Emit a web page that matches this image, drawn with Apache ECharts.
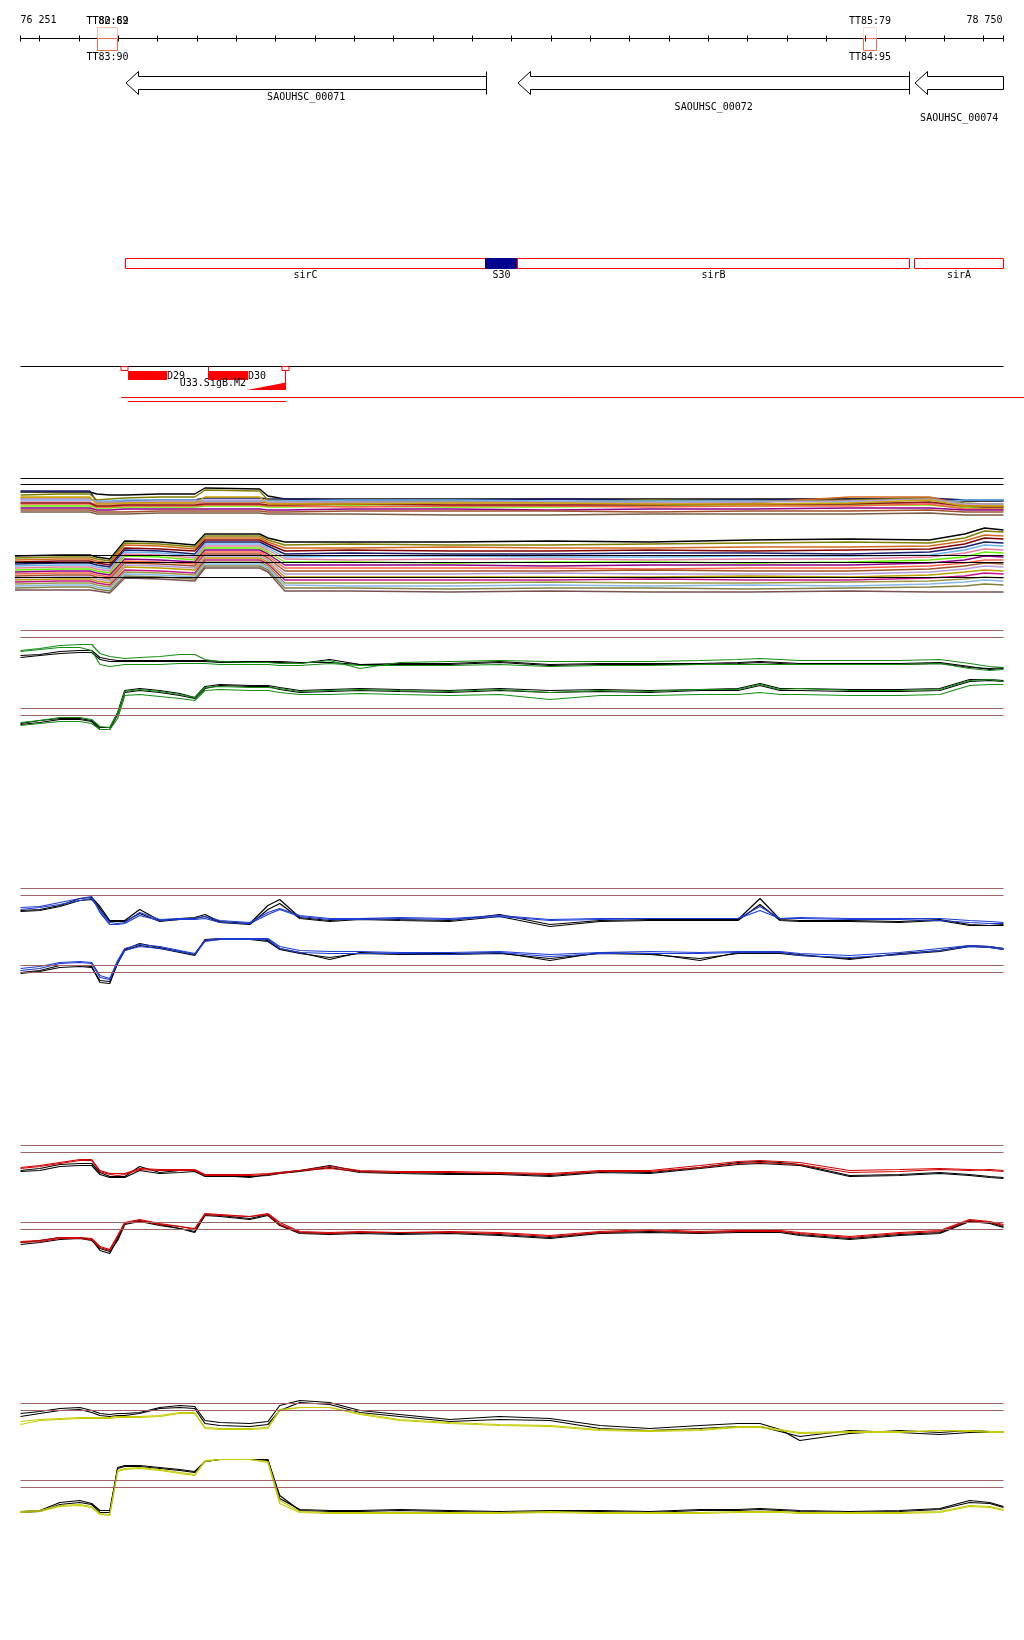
<!DOCTYPE html>
<html><head><meta charset="utf-8">
<script src="https://cdn.jsdelivr.net/npm/echarts@6/dist/echarts.min.js"></script>
<style>html,body{margin:0;padding:0;background:#fff}#c{width:1024px;height:1640px}</style>
</head><body><div id="c"></div><script>
// ---------- genome window ----------
const X_MIN = 76251, X_MAX = 78750;
const rulerTicks = [76251,76300,76400,76500,76600,76700,76800,76900,77000,77100,77200,77300,77400,77500,77600,77700,77800,77900,78000,78100,78200,78300,78400,78500,78600,78700,78750];
const rulerLabels = ['76 251', '78 750'];

// terminators
const termStarts = [76448, 78393];
const termEnds = [76497, 78427];
const termTopLabels = [['TT80:69', 'TT82:82'], ['TT85:79']];
const termBottomLabels = ['TT83:90', 'TT84:95'];

// annotated genes (minus strand)
const geneNames = ['SAOUHSC_00071', 'SAOUHSC_00072', 'SAOUHSC_00074'];
const geneStarts = [76519, 77515, 78524];
const geneEnds = [77436, 78510, 78750];

// regions
const regionNames = ['sirC', 'S30', 'sirB', 'sirA'];
const regionStarts = [76519, 77434, 77515, 78525];
const regionEnds = [77434, 77515, 78510, 78750];
const regionKinds = ['gene', 'site', 'gene', 'gene'];

// transcription features
const tssPositions = [76516, 76728, 76925];
const tssKinds = ['box', 'line', 'boxline'];
const sRNANames = ['D29', 'D30'];
const sRNAStarts = [76524, 76728];
const sRNAEnds = [76624, 76830];
const promoterName = 'U33.SigB.M2';
const promoterStart = 76827, promoterEnd = 76926;
const transcriptStarts = [76507, 76524];
const transcriptEnds = [78805, 76926];

// ---------- tiling array profiles (track A: many conditions) ----------
const posA = [76251,76351,76427,76445,76478,76516,76605,76694,76720,76859,76880,76923,77088,77342,77597,77851,78105,78359,78562,78651,78702,78750];
const posALower = [76237,76351,76427,76445,76478,76516,76605,76694,76720,76859,76880,76923,77088,77342,77597,77851,78105,78359,78562,78651,78702,78750];
const aUpperRefs = [4.15, 3.55];
const aLowerRefs = [4.45, 3.75, 2.25];
const aUpperSeries = [
 [2.8,2.8,2.8,2.6,2.5,2.5,2.6,2.6,3.2,3.1,2.4,2.1,2.1,2.1,2.1,2.1,2.1,2.1,2.1,1.9,1.9,1.9],
 [2.9,2.9,2.9,1.8,1.8,1.9,2.0,2.0,2.2,2.2,2.1,2.1,2.0,2.0,2.1,2.0,2.0,2.1,2.2,2.0,2.0,2.0],
 [2.5,2.6,2.6,2.0,2.1,2.2,2.3,2.3,3.0,2.9,2.0,1.9,1.8,1.9,1.8,2.0,1.9,2.0,2.2,1.7,1.6,1.6],
 [2.2,2.2,2.2,1.7,1.7,1.7,1.8,1.8,1.8,1.8,1.7,1.7,1.7,1.7,1.8,1.8,1.7,2.3,2.3,1.5,1.4,1.4],
 [2.0,2.0,2.0,1.9,1.9,2.0,2.0,2.0,1.9,1.9,1.9,1.9,2.0,2.0,1.9,1.9,1.9,1.8,1.7,2.0,2.0,2.0],
 [1.8,1.8,1.8,1.5,1.5,1.6,1.6,1.7,1.6,1.6,1.5,1.5,1.5,1.6,1.6,1.6,1.5,1.6,1.7,1.3,1.3,1.3],
 [1.4,1.4,1.4,1.2,1.2,1.3,1.3,1.3,1.4,1.4,1.3,1.3,1.4,1.3,1.3,1.4,1.4,1.5,1.5,1.2,1.2,1.2],
 [1.6,1.6,1.6,1.3,1.3,1.4,1.4,1.4,1.5,1.5,1.4,1.4,1.3,1.4,1.4,1.3,1.4,1.4,1.6,1.1,1.1,1.1],
 [1.2,1.2,1.2,1.0,1.0,1.1,1.1,1.1,1.1,1.1,1.0,1.0,1.1,1.1,1.0,1.1,1.1,1.2,1.2,1.0,1.0,1.0],
 [1.7,1.7,1.7,1.4,1.4,1.5,1.5,1.5,1.6,1.6,1.5,1.5,1.6,1.5,1.5,1.5,1.6,1.6,1.8,1.4,1.3,1.3],
 [1.0,1.0,1.0,0.8,0.8,0.8,0.9,0.9,0.9,0.9,0.8,0.8,0.9,0.9,0.9,0.8,0.9,0.9,1.0,0.8,0.8,0.8],
 [2.1,2.1,2.1,1.8,1.8,1.8,1.9,1.9,2.0,2.0,1.8,1.8,1.8,1.8,1.8,1.7,1.8,1.9,2.1,1.6,1.6,1.6],
 [0.8,0.8,0.8,0.6,0.6,0.6,0.7,0.7,0.7,0.7,0.6,0.6,0.6,0.5,0.5,0.6,0.6,0.6,0.7,0.5,0.5,0.5],
 [2.3,2.3,2.3,1.6,1.6,1.7,1.7,1.7,2.3,2.3,1.6,1.6,1.6,1.7,1.7,1.6,1.6,1.7,2.0,1.4,1.4,1.4]
];
const aLowerSeries = [
 [4.4,4.5,4.5,4.3,4.1,5.9,5.8,5.5,6.6,6.6,6.2,5.8,5.8,5.8,5.9,5.8,6.0,6.1,6.0,6.6,7.2,7.0],
 [4.2,4.3,4.3,4.1,3.9,5.7,5.6,5.3,6.4,6.4,6.0,5.5,5.6,5.5,5.5,5.6,5.7,5.8,5.7,6.2,6.9,6.8],
 [4.0,4.1,4.1,3.9,3.7,5.5,5.4,5.1,6.2,6.2,5.8,5.2,5.2,5.3,5.2,5.2,5.3,5.3,5.4,5.9,6.5,6.4],
 [3.8,3.9,3.9,3.7,3.5,5.2,5.1,4.9,6.0,6.0,5.6,4.9,5.0,4.9,4.9,5.0,4.9,5.0,5.1,5.6,6.2,6.1],
 [3.6,3.7,3.7,3.5,3.3,5.0,4.9,4.6,5.8,5.8,5.4,4.6,4.7,4.6,4.6,4.7,4.7,4.6,4.8,5.3,5.8,5.7],
 [3.4,3.5,3.5,3.3,3.1,4.8,4.7,4.4,5.6,5.6,5.2,4.3,4.4,4.4,4.3,4.3,4.4,4.4,4.5,5.0,5.5,5.4],
 [3.2,3.3,3.3,3.1,2.9,4.6,4.5,4.2,5.4,5.4,5.0,4.1,4.0,4.1,4.1,4.0,4.1,4.1,4.3,4.7,5.1,5.0],
 [3.0,3.1,3.1,2.9,2.7,4.4,4.3,4.0,5.2,5.2,4.8,3.8,3.8,3.7,3.8,3.8,3.7,3.8,4.0,4.3,4.8,4.7],
 [2.8,2.9,2.9,2.7,2.5,4.1,4.0,3.8,5.0,5.0,4.6,3.5,3.5,3.5,3.4,3.5,3.5,3.5,3.7,4.0,4.4,4.3],
 [2.6,2.7,2.7,2.5,2.3,3.9,3.8,3.6,4.8,4.8,4.4,3.2,3.2,3.2,3.2,3.1,3.2,3.2,3.4,3.7,4.0,4.0],
 [2.4,2.5,2.5,2.3,2.1,3.7,3.6,3.4,4.6,4.6,4.2,2.9,2.9,2.9,2.9,3.0,2.9,2.9,3.1,3.4,3.7,3.6],
 [2.2,2.3,2.3,2.1,1.9,3.5,3.4,3.2,4.4,4.4,4.0,2.6,2.6,2.6,2.7,2.6,2.6,2.6,2.8,3.1,3.4,3.3],
 [2.0,2.1,2.1,1.9,1.7,3.3,3.2,3.0,4.2,4.2,3.8,2.3,2.3,2.3,2.3,2.3,2.4,2.3,2.5,2.8,3.0,2.9],
 [1.8,1.9,1.9,1.7,1.5,3.0,2.9,2.7,4.0,4.0,3.6,2.0,2.0,2.0,2.0,2.1,2.0,2.0,2.2,2.4,2.7,2.6],
 [1.6,1.7,1.7,1.5,1.3,2.8,2.7,2.5,3.8,3.8,3.4,1.7,1.7,1.7,1.8,1.7,1.7,1.8,1.9,2.1,2.3,2.2],
 [1.4,1.5,1.5,1.3,1.1,2.6,2.5,2.3,3.6,3.6,3.2,1.5,1.4,1.4,1.5,1.4,1.5,1.4,1.6,1.8,2.0,1.9],
 [1.2,1.3,1.3,1.1,0.9,2.4,2.3,2.1,3.4,3.4,3.0,1.2,1.2,1.1,1.2,1.2,1.1,1.2,1.3,1.4,1.6,1.5],
 [1.0,1.0,1.0,0.9,0.7,2.2,2.1,1.9,3.2,3.2,2.8,0.9,0.9,0.8,0.9,0.8,0.8,0.9,0.8,0.8,0.8,0.8]
];

// ---------- tiling array profiles (tracks B-E) ----------
const profilePos = [76251,76300,76351,76402,76432,76453,76478,76498,76516,76554,76605,76656,76694,76720,76758,76834,76880,76910,76961,77037,77114,77215,77342,77469,77597,77724,77851,77978,78075,78131,78182,78232,78359,78486,78588,78664,78715,78750];
const thresholdRefs = [9, 8.3];

const bUpBlack1 = [6.5,6.6,6.9,7.0,7.0,6.3,6.1,6.0,6.0,6.0,6.0,6.0,6.0,6.0,5.9,5.9,5.9,5.9,5.8,5.8,5.6,5.7,5.7,5.9,5.6,5.7,5.7,5.7,5.8,5.9,5.8,5.7,5.7,5.7,5.8,5.4,5.1,5.2];
const bUpBlack2 = [6.3,6.5,6.7,6.8,6.8,6.1,5.9,5.9,5.9,5.9,5.9,5.9,5.9,5.9,5.8,5.8,5.8,5.8,5.7,6.1,5.6,5.6,5.6,5.8,5.5,5.6,5.6,5.6,5.7,5.8,5.7,5.6,5.6,5.6,5.7,5.3,5.2,5.3];
const bUpGreen1 = [6.9,7.1,7.3,7.3,7.0,5.6,5.4,5.5,5.6,5.6,5.6,5.7,5.7,5.7,5.6,5.6,5.6,5.5,5.5,5.7,5.5,5.5,5.5,5.6,5.4,5.5,5.5,5.6,5.6,5.6,5.6,5.6,5.6,5.6,5.7,5.2,5.0,5.1];
const bUpGreen2 = [7.0,7.2,7.5,7.6,7.6,6.7,6.4,6.3,6.2,6.3,6.4,6.6,6.6,6.1,5.9,5.8,5.8,5.7,5.7,6.0,5.2,5.8,5.9,6.0,5.9,5.9,5.9,6.0,6.1,6.2,6.1,6.0,6.0,6.0,6.1,5.7,5.4,5.3];
const bLoBlack1 = [7.5,7.8,8.0,8.0,7.8,7.1,7.1,8.6,10.8,11.0,10.8,10.5,10.1,11.2,11.4,11.3,11.3,11.1,10.8,10.9,11.0,10.9,10.8,11.0,10.8,10.9,10.8,10.9,11.0,11.5,11.0,11.0,10.9,10.9,11.0,11.9,11.9,11.8];
const bLoBlack2 = [7.4,7.6,7.9,7.9,7.7,6.9,6.9,8.4,10.6,10.8,10.6,10.3,10.0,11.0,11.3,11.2,11.2,10.9,10.6,10.7,10.8,10.7,10.6,10.8,10.6,10.7,10.6,10.8,10.8,11.3,10.8,10.8,10.7,10.7,10.8,11.7,11.8,11.7];
const bLoGreen1 = [7.3,7.5,7.7,7.7,7.5,6.9,6.9,8.0,10.3,10.4,10.2,10.0,9.8,10.8,10.9,10.8,10.8,10.6,10.4,10.4,10.5,10.4,10.3,10.4,9.9,10.3,10.3,10.4,10.4,10.6,10.4,10.4,10.3,10.3,10.4,11.3,11.4,11.4];
const bLoGreen2 = [7.6,7.8,8.1,8.1,7.9,7.2,7.1,8.5,10.7,10.9,10.7,10.4,10.1,11.1,11.2,11.1,11.1,11.0,10.7,10.8,10.9,10.8,10.7,10.9,10.6,10.8,10.7,10.9,10.9,11.4,10.9,11.0,10.8,10.8,10.9,11.8,11.9,11.7];

const cUpBlack1 = [6.8,6.9,7.3,8.0,8.1,7.2,5.8,5.8,5.8,6.9,5.8,6.0,6.1,6.4,5.7,5.5,7.3,7.9,6.1,5.8,6.0,5.9,5.8,6.4,5.4,5.8,5.9,5.9,5.9,8.0,5.9,5.8,5.8,5.7,5.9,5.4,5.3,5.3];
const cUpBlack2 = [6.7,6.8,7.2,7.8,7.9,7.0,5.7,5.7,5.7,6.5,5.7,5.9,6.0,6.2,5.6,5.4,6.9,7.5,6.0,5.7,5.9,5.8,5.7,6.2,5.2,5.7,5.8,5.8,5.8,7.4,5.8,5.7,5.7,5.6,5.8,5.3,5.3,5.4];
const cUpBlue1 = [6.9,7.1,7.4,7.8,8.0,6.8,5.6,5.5,5.6,6.6,5.9,6.0,6.0,6.2,5.8,5.6,6.6,7.0,6.3,6.0,6.0,6.1,6.0,6.3,5.9,6.0,6.0,6.0,6.0,6.8,6.0,6.1,6.0,6.0,6.0,5.8,5.7,5.6];
const cUpBlue2 = [7.1,7.2,7.6,8.0,8.2,6.6,5.4,5.4,5.5,6.3,5.8,5.9,5.9,6.0,5.6,5.5,6.4,6.9,6.2,5.9,5.9,6.0,5.9,6.2,5.8,5.9,6.0,6.0,6.0,7.2,6.0,6.0,5.9,5.9,5.8,5.6,5.5,5.5];
const cLoBlack1 = [8.3,8.5,9.0,9.0,8.9,7.3,7.2,9.3,10.6,11.2,10.8,10.4,10.1,11.6,11.7,11.7,11.5,10.7,10.3,9.6,10.3,10.2,10.2,10.3,9.5,10.3,10.2,9.5,10.3,10.3,10.3,10.1,9.6,10.2,10.5,11.0,10.9,10.7];
const cLoBlack2 = [8.2,8.4,8.8,8.9,8.8,7.5,7.4,9.2,10.5,11.0,10.7,10.3,10.0,11.5,11.6,11.6,11.4,10.6,10.2,9.8,10.2,10.1,10.1,10.2,9.7,10.2,10.1,9.7,10.2,10.2,10.2,10.0,9.7,10.1,10.4,10.9,10.8,10.6];
const cLoBlue1 = [8.7,8.9,9.3,9.4,9.3,8.0,7.7,9.5,10.7,11.1,10.9,10.5,10.2,11.5,11.7,11.7,11.7,10.9,10.5,10.4,10.4,10.3,10.3,10.4,10.1,10.3,10.4,10.3,10.4,10.4,10.4,10.2,10.0,10.3,10.7,11.0,10.9,10.7];
const cLoBlue2 = [8.5,8.7,9.2,9.3,9.2,7.8,7.6,9.3,10.5,10.9,10.7,10.4,10.1,11.4,11.6,11.6,11.6,10.7,10.3,10.2,10.2,10.2,10.1,10.3,9.9,10.2,10.2,10.2,10.3,10.3,10.3,10.0,9.8,10.1,10.5,10.9,10.8,10.6];

const dUpBlack1 = [6.5,6.7,7.1,7.2,7.2,6.3,5.9,5.9,5.9,6.9,6.3,6.5,6.5,6.0,6.0,5.8,6.1,6.3,6.5,7.0,6.4,6.3,6.2,6.2,6.0,6.4,6.3,6.8,7.3,7.4,7.3,7.1,6.0,6.1,6.3,6.1,5.9,5.8];
const dUpBlack2 = [6.4,6.5,6.9,7.0,7.0,6.1,5.8,5.8,5.8,6.5,6.2,6.3,6.4,5.9,5.9,5.9,6.0,6.2,6.4,6.8,6.3,6.2,6.1,6.1,5.9,6.3,6.2,6.7,7.1,7.2,7.1,7.0,5.9,6.0,6.2,6.0,5.8,5.7];
const dUpRed1 = [6.8,7.0,7.3,7.6,7.6,6.5,6.2,6.2,6.2,6.7,6.6,6.6,6.6,6.1,6.1,6.1,6.2,6.3,6.5,6.9,6.5,6.4,6.4,6.3,6.2,6.5,6.5,7.0,7.4,7.5,7.4,7.3,6.5,6.6,6.7,6.6,6.5,6.4];
const dUpRed2 = [6.7,6.9,7.2,7.5,7.5,6.4,6.1,6.0,6.1,6.6,6.5,6.5,6.5,6.0,6.0,6.0,6.1,6.2,6.5,6.7,6.4,6.3,6.3,6.2,6.1,6.4,6.4,6.8,7.2,7.3,7.2,7.1,6.3,6.4,6.6,6.5,6.6,6.5];
const dLoBlack1 = [7.0,7.2,7.5,7.5,7.3,6.2,5.9,7.4,8.9,9.2,8.8,8.4,8.1,9.8,9.7,9.4,9.8,8.8,8.0,7.9,8.0,7.9,8.0,7.8,7.5,8.0,8.1,8.0,8.1,8.1,8.1,7.8,7.4,7.8,8.0,9.2,9.0,8.6];
const dLoBlack2 = [6.8,7.0,7.3,7.4,7.2,6.4,6.1,7.2,8.8,9.1,8.7,8.4,8.0,9.7,9.6,9.3,9.7,8.7,7.9,7.8,7.9,7.8,7.9,7.7,7.4,7.9,8.0,7.9,8.0,8.0,8.0,7.7,7.3,7.7,7.9,9.1,8.9,8.5];
const dLoRed1 = [7.1,7.2,7.5,7.5,7.4,6.6,6.3,7.7,9.0,9.3,8.9,8.6,8.4,9.9,9.8,9.6,9.9,9.0,8.1,8.0,8.1,8.0,8.1,8.0,7.7,8.1,8.3,8.1,8.2,8.2,8.2,8.0,7.6,8.0,8.2,9.3,9.1,8.8];
const dLoRed2 = [7.0,7.1,7.4,7.4,7.3,6.5,6.2,7.6,8.9,9.2,8.8,8.6,8.3,9.8,9.7,9.6,9.8,8.8,8.0,7.9,8.0,8.0,8.0,7.9,7.6,8.0,8.2,8.0,8.1,8.1,8.1,7.9,7.5,7.9,8.1,9.2,9.0,8.7];

const eUpBlack1 = [8.0,8.2,8.5,8.6,8.3,8.0,7.9,8.0,8.0,8.1,8.6,8.8,8.7,7.3,7.1,7.0,7.2,8.8,9.3,9.1,8.3,7.9,7.4,7.7,7.5,6.8,6.5,6.8,7.0,7.0,6.4,5.3,6.0,6.3,6.1,6.3,6.2,6.2];
const eUpBlack2 = [7.7,8.0,8.3,8.4,8.1,7.8,7.7,7.8,7.8,8.0,8.5,8.6,8.5,7.0,6.8,6.7,6.9,8.3,9.1,8.9,8.1,7.7,7.2,7.4,7.3,6.5,6.3,6.5,6.7,6.7,6.2,5.7,6.3,6.1,5.9,6.1,6.1,6.1];
const eUpYellow1 = [6.9,7.3,7.4,7.5,7.5,7.5,7.5,7.6,7.6,7.6,7.7,8.0,8.0,6.5,6.4,6.4,6.5,8.3,8.6,8.6,7.9,7.3,7.0,6.8,6.7,6.3,6.2,6.3,6.6,6.6,6.3,6.0,6.1,6.1,6.3,6.2,6.1,6.1];
const eUpYellow2 = [7.2,7.4,7.5,7.6,7.6,7.6,7.6,7.7,7.7,7.7,7.8,8.1,8.1,6.6,6.5,6.5,6.6,8.4,8.6,8.6,8.0,7.4,7.1,6.9,6.8,6.4,6.3,6.4,6.7,6.7,6.4,6.1,6.2,6.2,6.3,6.3,6.2,6.2];
const eLoBlack1 = [5.9,6.0,6.8,7.0,6.7,6.0,6.0,10.3,10.5,10.5,10.3,10.1,9.9,10.9,11.1,11.1,11.1,7.2,6.1,6.0,6.0,6.1,6.0,5.9,6.0,6.0,5.9,6.1,6.1,6.2,6.1,6.0,5.9,6.0,6.2,7.0,6.8,6.4];
const eLoBlack2 = [5.8,5.9,6.6,6.8,6.6,5.8,5.8,10.2,10.4,10.4,10.2,10.0,9.8,10.9,11.1,11.1,11.0,7.5,6.0,5.9,5.9,6.0,5.9,5.8,5.9,5.9,5.8,6.0,6.0,6.1,6.0,5.9,5.8,5.9,6.1,6.8,6.7,6.3];
const eLoYellow1 = [5.8,5.9,6.4,6.5,6.3,5.6,5.5,9.9,10.1,10.2,10.0,9.7,9.5,10.9,11.1,11.1,10.8,6.7,5.8,5.7,5.7,5.7,5.7,5.7,5.8,5.7,5.7,5.7,5.8,5.8,5.8,5.7,5.7,5.7,5.8,6.4,6.3,6.0];
const eLoYellow2 = [5.9,6.0,6.5,6.6,6.4,5.7,5.6,10.0,10.2,10.3,10.1,9.8,9.6,11.0,11.1,11.1,10.9,7.0,5.9,5.8,5.8,5.8,5.8,5.8,5.9,5.8,5.8,5.8,5.9,5.9,5.9,5.8,5.8,5.8,5.9,6.5,6.4,6.1];

// ---------- styles ----------
const aUpperColors = ['#000000','#1b1b6b','#808000','#d2691e','#6cb4ee','#e87ca0','#66ee00','#ff6347','#8b008b','#8b1a1a','#a0522d','#b39ddb','#7a5c44','#c8a800'];
const aLowerColors = ['#000000','#808000','#d2691e','#800000','#1b1b6b','#6cb4ee','#e87ca0','#66ee00','#8b008b','#ff6347','#a0522d','#b39ddb','#b8a000','#c71585','#999944','#87b8e8','#808040','#7a5050'];
const FONT = '10px "DejaVu Sans Mono", "Liberation Mono", monospace';
const BROWN = '#a06262';
const GREEN = '#139013', BLUE = '#1c3cd8', RED = '#d40000', YELLOW = '#c4cc00';

const grids = [], xAxes = [], yAxes = [], series = [];
function addGrid(g, xmin, ymax) {
  grids.push(g); const i = grids.length - 1;
  xAxes.push({type:'value', gridIndex:i, min:xmin, max:X_MAX, show:false});
  yAxes.push({type:'value', gridIndex:i, min:0, max:ymax, show:false});
  return i;
}
function addLine(gi, xs, ys, color, width, refs, refColor) {
  const s = {type:'line', xAxisIndex:gi, yAxisIndex:gi, data:xs.map((x,k)=>[x, ys[k]]),
    symbol:'none', showSymbol:false, silent:true, animation:false,
    lineStyle:{color:color, width:width}, itemStyle:{color:color}};
  if (refs) s.markLine = {silent:true, symbol:['none','none'], label:{show:false}, animation:false,
    lineStyle:{color:refColor, width:1, type:'solid'}, emphasis:{disabled:true}, data:refs.map(v=>({yAxis:v}))};
  series.push(s);
}

// ---------- annotation grid ----------
const g0 = addGrid({left:20.5, right:20.5, top:0, height:420}, X_MIN, 1);
const cx = (api, bp) => api.coord([bp, 0])[0];
const crisp = v => Math.floor(v) + 0.5;
const txt = (x, y, s, align) => ({type:'text', x:x, y:y, style:{text:s, font:FONT, fill:'#000', align:align || 'center', verticalAlign:'middle'}});
function custom(data, renderItem) {
  series.push({type:'custom', xAxisIndex:g0, yAxisIndex:g0, silent:true, animation:false, clip:false,
    encode:{x:[0,1], y:2}, data:data, renderItem:renderItem});
}

// ruler baseline
custom([[X_MIN, X_MAX, 0]], (p, api) => ({type:'line', shape:{x1:cx(api,api.value(0)), y1:38.5, x2:cx(api,api.value(1)), y2:38.5}, style:{stroke:'#000', lineWidth:1}}));
// terminators
const termUpperStroke = ['#f6bea5', '#f9dccb'];
custom(termStarts.map((s,i)=>[s, termEnds[i], 0]), (p, api) => {
  const i = p.dataIndex, a = crisp(cx(api,api.value(0))), b = crisp(cx(api,api.value(1)));
  const ch = [
    {type:'rect', shape:{x:a, y:27.5, width:b-a, height:11}, style:{fill:'rgba(0,0,0,0)', stroke:termUpperStroke[i], lineWidth:1}},
    {type:'rect', shape:{x:a, y:38.5, width:b-a, height:12}, style:{fill:'rgba(0,0,0,0)', stroke:'#ef6a4c', lineWidth:1}}
  ];
  termTopLabels[i].forEach(s => ch.push(txt((a+b)/2, 21.5, s)));
  ch.push(txt((a+b)/2, 57.5, termBottomLabels[i]));
  return {type:'group', children:ch};
});
// ruler ticks
custom(rulerTicks.map(t=>[t, t, 0]), (p, api) => {
  const x = crisp(cx(api, api.value(0)));
  return {type:'line', shape:{x1:x, y1:35.5, x2:x, y2:41.5}, style:{stroke:'#000', lineWidth:1}};
});
custom([[X_MIN, X_MIN, 0], [X_MAX, X_MAX, 0]], (p, api) => {
  const x = cx(api, api.value(0));
  return txt(p.dataIndex === 0 ? x : x - 1, 20, rulerLabels[p.dataIndex], p.dataIndex === 0 ? 'left' : 'right');
});
// genes
custom(geneStarts.map((s,i)=>[s, geneEnds[i], 0]), (p, api) => {
  const i = p.dataIndex, a = Math.round(cx(api,api.value(0))), b = crisp(cx(api,api.value(1)));
  const head = 12, yt = 71.5, yb = 94.5, bt = 76.5, bb = 89.5, ym = 83;
  const pts = [[a,ym],[a+head+0.5,yt],[a+head+0.5,bt],[b,bt],[b,bb],[a+head+0.5,bb],[a+head+0.5,yb]];
  const ch = [{type:'polygon', shape:{points:pts}, style:{fill:'#fff', stroke:'#000', lineWidth:1}}];
  if (geneEnds[i] < X_MAX) ch.push({type:'line', shape:{x1:b, y1:71.5, x2:b, y2:94.5}, style:{stroke:'#000', lineWidth:1}});
  ch.push(txt((a+b)/2, 97.5 + (i % 3) * 10.3, geneNames[i]));
  return {type:'group', children:ch};
});
// regions
custom(regionStarts.map((s,i)=>[s, regionEnds[i], 0]), (p, api) => {
  const i = p.dataIndex, a = crisp(cx(api,api.value(0))), b = crisp(cx(api,api.value(1)));
  const site = regionKinds[i] === 'site';
  return {type:'group', children:[
    {type:'rect', shape:{x:a, y:258.5, width:b-a, height:10}, style:{fill: site ? '#000090' : '#fff', stroke: site ? '#000090' : '#ff0000', lineWidth:1}},
    txt((a+b)/2, 275.5, regionNames[i])
  ]};
});
// transcription track divider
custom([[X_MIN, X_MAX, 0]], (p, api) => ({type:'line', shape:{x1:cx(api,api.value(0)), y1:366.5, x2:cx(api,api.value(1)), y2:366.5}, style:{stroke:'#000', lineWidth:1}}));
// sRNAs
custom(sRNAStarts.map((s,i)=>[s, sRNAEnds[i], 0]), (p, api) => {
  const i = p.dataIndex, a = Math.round(cx(api,api.value(0))), b = Math.round(cx(api,api.value(1)));
  return {type:'group', children:[
    {type:'rect', shape:{x:a, y:371, width:b-a, height:9}, style:{fill:'#ff0000'}},
    txt(b, 376, sRNANames[i], 'left')
  ]};
});
// promoter
custom([[promoterStart, promoterEnd, 0]], (p, api) => {
  const a = Math.round(cx(api,api.value(0))), b = Math.round(cx(api,api.value(1)));
  return {type:'group', children:[
    {type:'polygon', shape:{points:[[a,390],[b,390],[b,382.5]]}, style:{fill:'#ff0000'}},
    txt(a - 1, 383.5, promoterName, 'right')
  ]};
});
// TSS
custom(tssPositions.map(t=>[t, t, 0]), (p, api) => {
  const i = p.dataIndex, x = crisp(cx(api, api.value(0))), k = tssKinds[i];
  const ch = [];
  if (k !== 'box') ch.push({type:'line', shape:{x1:x, y1:366.5, x2:x, y2: k === 'line' ? 379.5 : 390}, style:{stroke:'#ff0000', lineWidth:1}});
  if (k !== 'line') ch.push({type:'rect', shape:{x:x-3.5, y:366.5, width:7, height:4}, style:{fill:'#fff', stroke:'#ff0000', lineWidth:1}});
  return {type:'group', children:ch};
});
// transcripts
custom(transcriptStarts.map((s,i)=>[s, transcriptEnds[i], 0]), (p, api) => {
  const y = [397.5, 401.5][p.dataIndex];
  return {type:'line', shape:{x1:cx(api,api.value(0)), y1:y, x2:cx(api,api.value(1)), y2:y}, style:{stroke:'#ff0000', lineWidth:1}};
});

// ---------- track A ----------
const gAu = addGrid({left:20.5, right:20.5, top:470, height:50}, X_MIN, 5);
const gAl = addGrid({left:15, right:20.5, top:520, height:80}, posALower[0], 8);
aUpperSeries.forEach((ys, k) => addLine(gAu, posA, ys, aUpperColors[k], 1.4, k === 0 ? aUpperRefs : null, '#000'));
aLowerSeries.forEach((ys, k) => addLine(gAl, posALower, ys, aLowerColors[k], 1.4, k === 0 ? aLowerRefs : null, '#000'));

// ---------- tracks B-E ----------
const panelTops = [630.5, 708.5, 888.5, 965.5, 1145.5, 1222.5, 1403.5, 1480.5];
const panels = [
  [[bUpBlack1,'#000'],[bUpBlack2,'#000'],[bUpGreen1,GREEN],[bUpGreen2,GREEN]],
  [[bLoBlack1,'#000'],[bLoBlack2,'#000'],[bLoGreen1,GREEN],[bLoGreen2,GREEN]],
  [[cUpBlack1,'#000'],[cUpBlack2,'#000'],[cUpBlue1,BLUE],[cUpBlue2,BLUE]],
  [[cLoBlack1,'#000'],[cLoBlack2,'#000'],[cLoBlue1,BLUE],[cLoBlue2,BLUE]],
  [[dUpBlack1,'#000'],[dUpBlack2,'#000'],[dUpRed1,RED],[dUpRed2,RED]],
  [[dLoBlack1,'#000'],[dLoBlack2,'#000'],[dLoRed1,RED],[dLoRed2,RED]],
  [[eUpBlack1,'#000'],[eUpBlack2,'#000'],[eUpYellow1,YELLOW],[eUpYellow2,YELLOW]],
  [[eLoBlack1,'#000'],[eLoBlack2,'#000'],[eLoYellow1,YELLOW],[eLoYellow2,YELLOW]]
];
panels.forEach((lines, pi) => {
  const gi = addGrid({left:20.5, right:20.5, top:panelTops[pi] - 40, height:130}, X_MIN, 13);
  lines.forEach((l, k) => addLine(gi, profilePos, l[0], l[1], 1.2, k === 0 ? thresholdRefs : null, BROWN));
});

const chart = echarts.init(document.getElementById('c'), null, {renderer:'canvas'});
chart.setOption({animation:false, backgroundColor:'#fff', tooltip:{show:false},
  grid:grids, xAxis:xAxes, yAxis:yAxes, series:series});
</script></body></html>
